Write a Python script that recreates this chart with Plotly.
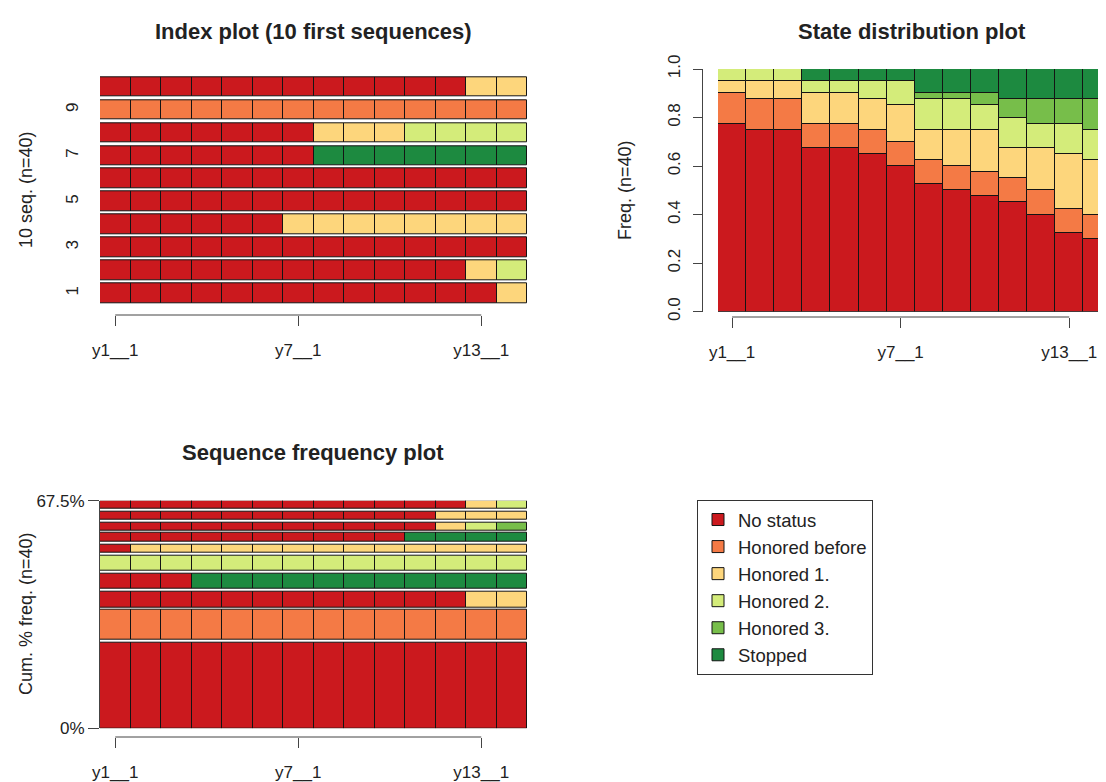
import numpy as np
import plotly.graph_objects as go

W, H = 1106, 782
OFF = 8  # page body margin of the html page


def px(x):
    return (x - OFF) / W


def py(y):
    return 1 - (y - OFF) / H


# ---------------- data ----------------
state_codes = ["N", "B", "1", "2", "3", "S"]
state_names = ["No status", "Honored before", "Honored 1.", "Honored 2.", "Honored 3.", "Stopped"]
state_colors = ["#CB191E", "#F47A45", "#FDD67C", "#D4EC7A", "#77BE4A", "#1D8A40"]

time_labels = ["y1__1", "y2__1", "y3__1", "y4__1", "y5__1", "y6__1", "y7__1",
               "y8__1", "y9__1", "y10__1", "y11__1", "y12__1", "y13__1", "y14__1"]
tick_positions = [1, 7, 13]

# Index plot: first 10 sequences, row 1 at the bottom
index_rows = [1, 2, 3, 4, 5, 6, 7, 8, 9, 10]
index_seqs = [
    "NNNNNNNNNNNNN1",
    "NNNNNNNNNNNN12",
    "NNNNNNNNNNNNNN",
    "NNNNNN11111111",
    "NNNNNNNNNNNNNN",
    "NNNNNNNNNNNNNN",
    "NNNNNNNSSSSSSS",
    "NNNNNNN1112222",
    "BBBBBBBBBBBBBB",
    "NNNNNNNNNNNN11",
]
index_ticks = [1, 3, 5, 7, 9]

# State distribution: counts out of 40 at each time point
n_total = 40
dist_counts = {
    "N": [31, 30, 30, 27, 27, 26, 24, 21, 20, 19, 18, 16, 13, 12],
    "B": [5, 5, 5, 4, 4, 4, 4, 4, 4, 4, 4, 4, 4, 4],
    "1": [2, 3, 3, 5, 5, 5, 6, 5, 6, 7, 5, 7, 9, 9],
    "2": [2, 2, 2, 2, 2, 3, 4, 5, 5, 4, 5, 4, 5, 5],
    "3": [0, 0, 0, 0, 0, 0, 0, 1, 1, 2, 3, 4, 4, 5],
    "S": [0, 0, 0, 2, 2, 2, 2, 4, 4, 4, 5, 5, 5, 5],
}
dist_ticks = [0.0, 0.2, 0.4, 0.6, 0.8, 1.0]

# Sequence frequency plot: 10 most frequent sequences (bottom to top) and % freq.
freq_seqs = [
    "NNNNNNNNNNNNNN",
    "BBBBBBBBBBBBBB",
    "NNNNNNNNNNNN11",
    "NNNSSSSSSSSSSS",
    "22222222222222",
    "N1111111111111",
    "NNNNNNNNNNSSSS",
    "NNNNNNNNNNN123",
    "NNNNNNNNNNN111",
    "NNNNNNNNNNNN12",
]
freq_pct = [25.4, 9.7, 5.4, 5.4, 5.3, 3.4, 3.3, 3.2, 3.2, 3.2]

# ---------------- figure ----------------
TXT = "#222222"
FONT = "Liberation Sans, Arial, sans-serif"
LINE = dict(color="#141414", width=1)
ROW_H = 0.85
GAP = 0.8

fig = go.Figure()

times = np.arange(1, len(time_labels) + 1)

# State distribution plot (also provides the legend)
cum = np.zeros(len(time_labels))
for code, name, col in zip(state_codes, state_names, state_colors):
    vals = np.array(dist_counts[code]) / n_total
    fig.add_trace(go.Bar(
        x=times, y=vals, base=cum.copy(), width=1.0,
        marker=dict(color=col, line=LINE), name=name, legendgroup=code,
        showlegend=True, xaxis="x2", yaxis="y2"))
    cum = cum + vals

# Index plot
for code, name, col in zip(state_codes, state_names, state_colors):
    xs, bases = [], []
    for r, seq in zip(index_rows, index_seqs):
        for t, s in enumerate(seq):
            if s == code:
                xs.append(t + 1)
                bases.append(r - ROW_H / 2)
    if xs:
        fig.add_trace(go.Bar(
            x=xs, y=[ROW_H] * len(xs), base=bases, width=1.0,
            marker=dict(color=col, line=LINE), name=name, legendgroup=code,
            showlegend=False, xaxis="x", yaxis="y"))

# Sequence frequency plot
cum_pct = np.cumsum(freq_pct)
low_pct = cum_pct - np.array(freq_pct)
for code, name, col in zip(state_codes, state_names, state_colors):
    xs, bases, hs = [], [], []
    for k, seq in enumerate(freq_seqs):
        b = low_pct[k] + (GAP if k > 0 else 0)
        for t, s in enumerate(seq):
            if s == code:
                xs.append(t + 1)
                bases.append(b)
                hs.append(cum_pct[k] - b)
    if xs:
        fig.add_trace(go.Bar(
            x=xs, y=hs, base=bases, width=1.0,
            marker=dict(color=col, line=LINE), name=name, legendgroup=code,
            showlegend=False, xaxis="x3", yaxis="y3"))

tick_text = [time_labels[i - 1] for i in tick_positions]
xcommon = dict(tickvals=tick_positions, ticktext=tick_text, ticks="outside", ticklen=10,
               tickcolor="#444", tickwidth=1, showline=False, showgrid=False, zeroline=False,
               automargin=False,
               tickfont=dict(size=17, color=TXT, family=FONT), ticklabelstandoff=10)

fig.update_layout(
    width=W, height=H, autosize=False,
    margin=dict(l=0, r=0, t=0, b=0, pad=0, autoexpand=False),
    paper_bgcolor="white", plot_bgcolor="white",
    barmode="overlay", bargap=0,
    font=dict(family=FONT, color=TXT),
    xaxis=dict(domain=[px(100), px(527)], range=[0.5, 14.5], anchor="free",
               position=py(315), **xcommon),
    yaxis=dict(domain=[py(304.7), py(75.3)], range=[0.5, 10.5], anchor="free",
               position=px(81), tickvals=index_ticks, tickangle=-90, ticks="",
               showline=False, showgrid=False, zeroline=False, automargin=False,
               tickfont=dict(size=17, color=TXT, family=FONT)),
    xaxis2=dict(domain=[px(718), px(1106)], range=[0.5, 0.5 + 388 / 28.1], anchor="free",
                position=py(317), **xcommon),
    yaxis2=dict(domain=[py(311.7), py(69)], range=[0, 1], anchor="free",
                position=px(702), tickvals=dist_ticks, tickformat=".1f", tickangle=-90,
                ticks="outside", ticklen=9, tickcolor="#444", showline=True,
                linecolor="#444", linewidth=1, showgrid=False, zeroline=False,
                automargin=False, ticklabelstandoff=6,
                tickfont=dict(size=17, color=TXT, family=FONT)),
    xaxis3=dict(domain=[px(100), px(527)], range=[0.5, 14.5], anchor="free",
                position=py(737), **xcommon),
    yaxis3=dict(domain=[py(728.3), py(500.7)], range=[0, cum_pct[-1]], anchor="x3",
                tickvals=[0, cum_pct[-1]], ticktext=["0%", f"{cum_pct[-1]:.1f}%"],
                ticks="outside", ticklen=11, tickcolor="#444", showline=True,
                linecolor="#444", linewidth=1, showgrid=False, zeroline=False,
                automargin=False,
                tickfont=dict(size=17, color=TXT, family=FONT)),
    legend=dict(x=px(697), y=py(500), xanchor="left", yanchor="top",
                bordercolor="#333", borderwidth=1, bgcolor="white",
                font=dict(size=18.5, color=TXT, family=FONT), traceorder="normal",
                itemclick=False, itemdoubleclick=False),
)

# R-style x axis lines spanning first to last tick
shapes = []
for xr, ypos in (("x", 315), ("x2", 317), ("x3", 737)):
    shapes.append(dict(type="line", xref=xr, yref="paper", x0=tick_positions[0],
                       x1=tick_positions[-1], y0=py(ypos), y1=py(ypos),
                       line=dict(color="#444", width=1)))
fig.update_layout(shapes=shapes)

ann = []
title_font = dict(size=22, color=TXT, family=FONT)
for text, x, y in (("<b>Index plot (10 first sequences)</b>", 313, 32),
                   ("<b>State distribution plot</b>", 912, 32),
                   ("<b>Sequence frequency plot</b>", 313, 452)):
    ann.append(dict(text=text, x=px(x), y=py(y), xref="paper", yref="paper",
                    showarrow=False, xanchor="center", yanchor="middle", font=title_font))
for text, x, y in (("10 seq. (n=40)", 26, 190),
                   ("Freq. (n=40)", 625, 190),
                   ("Cum. % freq. (n=40)", 26, 614)):
    ann.append(dict(text=text, x=px(x), y=py(y), xref="paper", yref="paper",
                    showarrow=False, xanchor="center", yanchor="middle", textangle=-90,
                    font=dict(size=18, color=TXT, family=FONT)))
fig.update_layout(annotations=ann)

fig.write_html("out.html")
